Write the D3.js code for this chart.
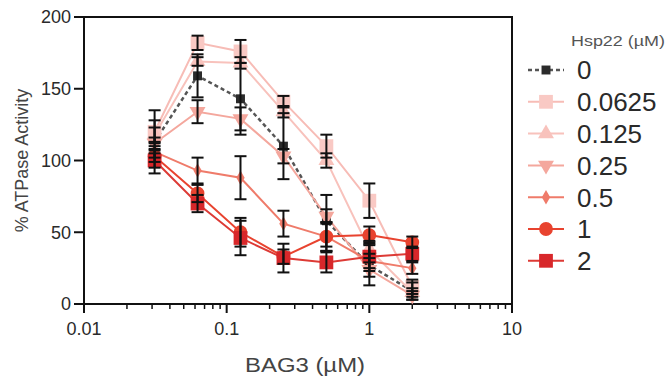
<!DOCTYPE html>
<html>
<head>
<meta charset="utf-8">
<script src="https://cdn.jsdelivr.net/npm/d3@7"></script>
<style>
  body { margin: 0; background: #fff; }
  text { font-family: "Liberation Sans", Arial, sans-serif; }
</style>
</head>
<body>
<div id="chart"></div>
<script>
// BAG3 concentrations (µM) and Hsp22 series
const bag3 = [0.03125, 0.0625, 0.125, 0.25, 0.5, 1, 2];
const hsp22Labels = ['0', '0.0625', '0.125', '0.25', '0.5', '1', '2'];

const act0 = [113, 159, 143, 110, 58, 27, 9];
const act00625 = [120, 182, 176, 141, 110, 72, 12];
const act0125 = [118, 169, 168, 134, 100, 38, 8];
const act025 = [112, 134, 129, 103, 61, 24, 6];
const act05 = [106, 93, 88, 56, 47, 30, 25];
const act1 = [103, 77, 50, 33, 47, 48, 43];
const act2 = [100, 70, 46, 32, 29, 33, 35];

const err0 = [22, 15, 25, 23, 18, 14, 6];
const err00625 = [8, 5, 8, 4, 8, 12, 5];
const err0125 = [5, 3, 4, 4, 5, 6, 3];
const err025 = [4, 8, 8, 5, 5, 5, 3];
const err05 = [4, 9, 15, 9, 10, 5, 4];
const err1 = [4, 6, 10, 5, 10, 6, 4];
const err2 = [5, 6, 12, 10, 7, 10, 5];

const xTickLabels = ['0.01', '0.1', '1', '10'];
const yTicks = [0, 50, 100, 150, 200];

const series = [
  { label: hsp22Labels[0], values: act0, errors: err0, color: '#2b2b2b', line: '#555', symbol: d3.symbolSquare, size: 80, dash: '4,3' },
  { label: hsp22Labels[1], values: act00625, errors: err00625, color: '#f9c9c4', line: '#f7bcb6', symbol: d3.symbolSquare, size: 190 },
  { label: hsp22Labels[2], values: act0125, errors: err0125, color: '#f8c2bc', line: '#f8c2bc', symbol: d3.symbolTriangle, size: 110 },
  { label: hsp22Labels[3], values: act025, errors: err025, color: '#f4a79d', line: '#f4a79d', symbol: d3.symbolTriangle, size: 110, flip: true },
  { label: hsp22Labels[4], values: act05, errors: err05, color: '#ef7b6a', line: '#ef7b6a', symbol: d3.symbolDiamond, size: 60 },
  { label: hsp22Labels[5], values: act1, errors: err1, color: '#e8432f', line: '#e8432f', symbol: d3.symbolCircle, size: 150 },
  { label: hsp22Labels[6], values: act2, errors: err2, color: '#d8272a', line: '#dd3a35', symbol: d3.symbolSquare, size: 190 }
];

const width = 670;
const height = 381;
const mLeft = 84, mRight = 512, mTop = 17, mBottom = 304;
const textColor = '#2a2a2a';

const svg = d3.select('#chart')
  .append('svg')
  .attr('width', width)
  .attr('height', height);

const x = d3.scaleLog().domain([0.01, 10]).range([mLeft, mRight]);
const y = d3.scaleLinear().domain([0, 200]).range([mBottom, mTop]);

// frame top + right
svg.append('path')
  .attr('d', `M${mLeft},${mTop}H${mRight}V${mBottom}`)
  .attr('fill', 'none')
  .attr('stroke', '#111')
  .attr('stroke-width', 2);

// x axis: major + minor ticks
const majors = [0.01, 0.1, 1, 10];
const minors = [];
[0.01, 0.1, 1].forEach(d => { for (let k = 2; k <= 9; k++) minors.push(d * k); });

const xAxis = svg.append('g').attr('transform', `translate(0,${mBottom})`);
xAxis.append('line').attr('x1', mLeft).attr('x2', mRight).attr('stroke', '#111').attr('stroke-width', 2);
xAxis.selectAll('.minor').data(minors).enter().append('line')
  .attr('x1', d => x(d)).attr('x2', d => x(d)).attr('y1', 0).attr('y2', 5)
  .attr('stroke', '#111').attr('stroke-width', 1.5);
xAxis.selectAll('.major').data(majors).enter().append('line')
  .attr('x1', d => x(d)).attr('x2', d => x(d)).attr('y1', 0).attr('y2', 9)
  .attr('stroke', '#111').attr('stroke-width', 2);
xAxis.selectAll('.lab').data(majors).enter().append('text')
  .attr('x', d => x(d)).attr('y', 31)
  .attr('text-anchor', 'middle')
  .style('font-size', '18px').style('fill', textColor)
  .text((d, i) => xTickLabels[i]);

// y axis
const yAxis = svg.append('g').attr('transform', `translate(${mLeft},0)`);
yAxis.append('line').attr('y1', mTop).attr('y2', mBottom + 9).attr('stroke', '#111').attr('stroke-width', 2);
yAxis.selectAll('.tick').data(yTicks).enter().append('line')
  .attr('x1', -10).attr('x2', 0).attr('y1', d => y(d)).attr('y2', d => y(d))
  .attr('stroke', '#111').attr('stroke-width', 2);
yAxis.selectAll('.lab').data(yTicks).enter().append('text')
  .attr('x', -13).attr('y', d => y(d)).attr('dy', '0.36em')
  .attr('text-anchor', 'end')
  .style('font-size', '18px').style('fill', textColor)
  .text(d => d);

svg.append('text')
  .attr('transform', `translate(28,${(mTop + mBottom) / 2}) rotate(-90)`)
  .attr('text-anchor', 'middle')
  .style('font-size', '18px').style('fill', '#444')
  .text('% ATPase Activity');

svg.append('text')
  .attr('x', 245).attr('y', 372)
  .attr('textLength', 120).attr('lengthAdjust', 'spacingAndGlyphs')
  .style('font-size', '20px').style('fill', '#444')
  .text('BAG3 (µM)');

const plot = svg.append('g');
const line = d3.line().x(d => x(d[0])).y(d => y(d[1]));

// lines
series.forEach(s => {
  plot.append('path')
    .datum(bag3.map((b, i) => [b, s.values[i]]))
    .attr('d', line)
    .attr('fill', 'none')
    .attr('stroke', s.line)
    .attr('stroke-width', s.dash ? 2.5 : 2)
    .attr('stroke-dasharray', s.dash || null);
});

// markers
series.forEach(s => {
  const sym = d3.symbol().type(s.symbol).size(s.size);
  plot.selectAll(null)
    .data(bag3.map((b, i) => [b, s.values[i]]))
    .enter().append('path')
    .attr('d', sym)
    .attr('transform', d => `translate(${x(d[0])},${y(d[1])})${s.flip ? ' rotate(180)' : ''}`)
    .attr('fill', s.color);
});

// error bars
series.forEach(s => {
  const g = plot.selectAll(null)
    .data(bag3.map((b, i) => [b, s.values[i], s.errors[i]]))
    .enter().append('g')
    .attr('stroke', '#111').attr('stroke-width', 2);
  g.append('line')
    .attr('x1', d => x(d[0])).attr('x2', d => x(d[0]))
    .attr('y1', d => y(d[1] + d[2])).attr('y2', d => y(d[1] - d[2]));
  g.append('line')
    .attr('x1', d => x(d[0]) - 6).attr('x2', d => x(d[0]) + 6)
    .attr('y1', d => y(d[1] + d[2])).attr('y2', d => y(d[1] + d[2]));
  g.append('line')
    .attr('x1', d => x(d[0]) - 6).attr('x2', d => x(d[0]) + 6)
    .attr('y1', d => y(d[1] - d[2])).attr('y2', d => y(d[1] - d[2]));
});

// legend
const legend = svg.append('g');
legend.append('text')
  .attr('x', 571).attr('y', 46)
  .attr('textLength', 94).attr('lengthAdjust', 'spacingAndGlyphs')
  .style('font-size', '14px').style('fill', '#555')
  .text('Hsp22 (µM)');

series.forEach((s, i) => {
  const cy = 70 + i * 31.8;
  legend.append('line')
    .attr('x1', 528).attr('x2', 564).attr('y1', cy).attr('y2', cy)
    .attr('stroke', s.line).attr('stroke-width', s.dash ? 2.5 : 2)
    .attr('stroke-dasharray', s.dash || null);
  legend.append('path')
    .attr('d', d3.symbol().type(s.symbol).size(s.size)())
    .attr('transform', `translate(546,${cy})${s.flip ? ' rotate(180)' : ''}`)
    .attr('fill', s.color);
  legend.append('text')
    .attr('x', 577).attr('y', cy).attr('dy', '0.36em')
    .style('font-size', '26px').style('fill', textColor)
    .text(s.label);
});
</script>
</body>
</html>
